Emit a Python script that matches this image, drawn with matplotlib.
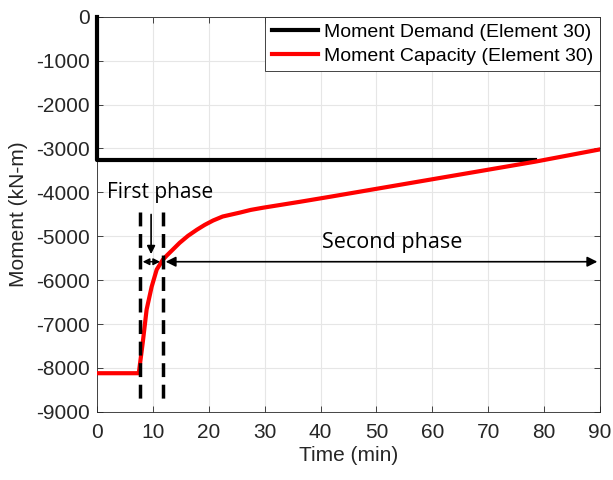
import matplotlib
matplotlib.use('Agg')
import matplotlib.pyplot as plt

plt.rcParams['font.family'] = ['Liberation Sans', 'DejaVu Sans']
plt.rcParams['axes.unicode_minus'] = False

# Moment demand (element 30)
demand_t = [0, 0, 78.4]
demand_m = [0, -3270, -3270]

# Moment capacity (element 30)
cap_t = [0, 7.5, 8.2, 8.9, 9.8, 10.7, 11.8, 12.5, 14.8, 16.3, 17.9, 19.3, 20.8, 22.5,
         25.6, 27.5, 29.7, 36.3, 41.7, 78.4, 90]
cap_m = [-8120, -8120, -7430, -6670, -6150, -5760, -5535, -5440, -5150, -4990, -4850,
         -4740, -4640, -4550, -4460, -4400, -4350, -4215, -4100, -3300, -3020]

# phase markers
phase_start = 7.7
phase_split = 11.8
phase_end = 90
arrow_level = -5580

fig, ax = plt.subplots(figsize=(6.13, 4.8), dpi=100)
fig.subplots_adjust(left=0.158, right=0.979, top=0.965, bottom=0.142)

ax.plot(demand_t, demand_m, color='black', lw=3, label='Moment Demand (Element 30)',
        zorder=3, clip_on=False)
ax.plot(cap_t, cap_m, color='red', lw=3, label='Moment Capacity (Element 30)', zorder=3)

# dashed phase boundaries
for t in [phase_start, phase_split]:
    ax.plot([t, t], [-4450, -8800], color='black', lw=2.5, ls=(0, (4, 2.2)), zorder=4)

# phase arrows
ax.annotate('', xy=(phase_split, arrow_level), xytext=(phase_start, arrow_level),
            arrowprops=dict(arrowstyle='<|-|>', color='black', lw=1, mutation_scale=10), zorder=5)
ax.annotate('', xy=(phase_end, arrow_level), xytext=(phase_split, arrow_level),
            arrowprops=dict(arrowstyle='<|-|>', color='black', lw=1.2, mutation_scale=15), zorder=5)
ax.annotate('', xy=(9.7, -5470), xytext=(9.7, -4440),
            arrowprops=dict(arrowstyle='-|>', color='black', lw=1.2, mutation_scale=12), zorder=5)

ax.text(11.4, -4010, 'First phase', ha='center', va='center', fontsize=15,
        family=['Open Sans', 'DejaVu Sans'])
ax.text(52.8, -5150, 'Second phase', ha='center', va='center', fontsize=15.5,
        family=['Open Sans', 'DejaVu Sans'])

ax.set_xlim(0, 90)
ax.set_ylim(-9000, 0)
ax.set_xticks(range(0, 91, 10))
ax.set_yticks(range(-9000, 1, 1000))
ax.grid(True, color='#e6e6e6', lw=0.8)
ax.set_axisbelow(True)
ax.tick_params(direction='in', top=True, right=True, labelsize=15, colors='#262626',
               length=4, width=0.6)
ax.tick_params(axis='x', pad=8)
ax.tick_params(axis='y', pad=5)
for s in ax.spines.values():
    s.set_color('#262626')
    s.set_linewidth(0.6)

ax.set_xlabel('Time (min)', fontsize=15, color='#262626', labelpad=3)
ax.set_ylabel('Moment (kN-m)', fontsize=15, color='#262626', labelpad=6)

leg = ax.legend(loc='upper right', fontsize=14, handlelength=2.4, borderaxespad=0,
                fancybox=False, framealpha=1, edgecolor='#262626', borderpad=0.35,
                labelspacing=0.3, handletextpad=0.3)
leg.get_frame().set_linewidth(0.6)

plt.savefig('out.png', dpi=100)
